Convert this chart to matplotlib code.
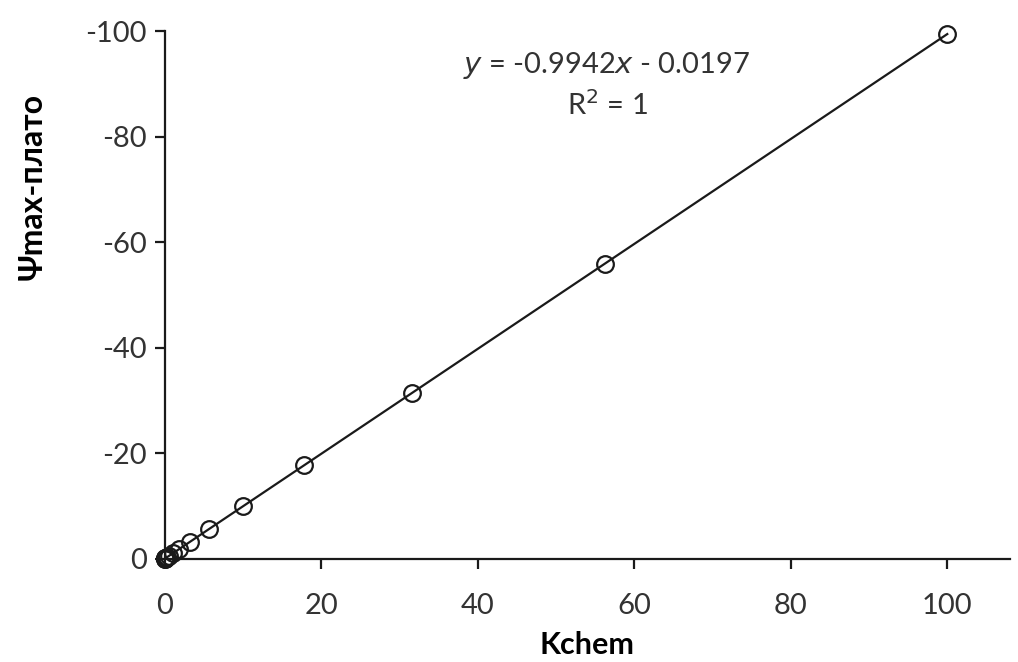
import numpy as np
import matplotlib.pyplot as plt

plt.rcParams['font.family'] = ['Lato', 'DejaVu Sans']
plt.rcParams['axes.unicode_minus'] = False

# Kchem values (log-spaced) and the corresponding plateau potential
kchem = [100, 56.2, 31.6, 17.8, 10.0, 5.62, 3.16, 1.78, 1.0, 0.562, 0.316,
         0.178, 0.1, 0.056, 0.032, 0.018, 0.01]
psi = [-99.4, -55.9, -31.4, -17.7, -9.97, -5.61, -3.16, -1.79, -1.01, -0.58,
       -0.33, -0.197, -0.119, -0.075, -0.051, -0.038, -0.029]

slope, intercept = -0.9942, -0.0197

fig = plt.figure(figsize=(10.18, 6.62), dpi=100)
ax = fig.add_axes([0.162, 0.156, 0.83, 0.797])

xfit = np.array([min(kchem), max(kchem)])
ax.plot(xfit, slope * xfit + intercept, color='#1a1a1a', lw=1.6, zorder=2)
ax.plot(kchem, psi, 'o', mfc='none', mec='#1a1a1a', ms=12, mew=1.6,
        zorder=3, clip_on=False)

ax.set_xlim(0, 108)
ax.set_ylim(0, -100)
ax.set_xticks([0, 20, 40, 60, 80, 100])
ax.set_yticks([0, -20, -40, -60, -80, -100])

for s in ['top', 'right']:
    ax.spines[s].set_visible(False)
for s in ['left', 'bottom']:
    ax.spines[s].set_linewidth(1.6)
    ax.spines[s].set_color('#1a1a1a')
ax.tick_params(direction='out', length=7, width=1.6, colors='#1a1a1a',
               labelsize=21, labelcolor='#333333')
ax.tick_params(axis='x', pad=18)
ax.tick_params(axis='y', pad=6)

ax.set_xlabel('Kchem', fontsize=22, fontweight='bold', labelpad=8)
ax.set_ylabel('Ψmax-плато', fontsize=23, fontweight='bold')
ax.yaxis.set_label_coords(-0.14, 0.706)

ax.text(56.5, -93.5, r'$y$ = -0.9942$x$ - 0.0197', fontsize=21, ha='center',
        va='center', color='#333333')
ax.text(56.5, -86.0, 'R$^2$ = 1', fontsize=21, ha='center', va='center',
        color='#333333')

plt.savefig('out.png', dpi=100)
